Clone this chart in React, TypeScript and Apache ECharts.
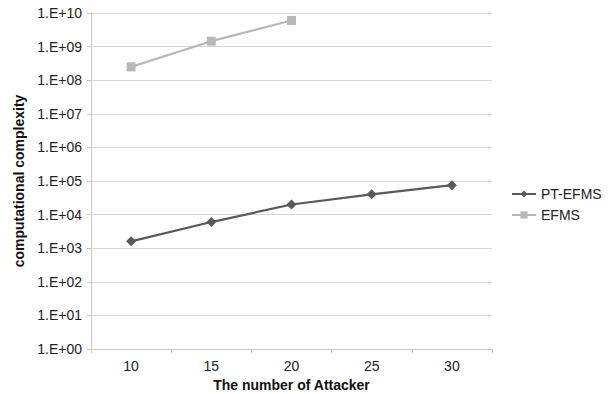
import React, { useEffect, useRef } from "react";
import * as echarts from "echarts";

const categories = ["10", "15", "20", "25", "30"];
const ptEfms = [1600, 6000, 20000, 40000, 75000];
const efms = [250000000, 1450000000, 6000000000];
const seriesNames = ["PT-EFMS", "EFMS"];

function fmt(v: number) {
  const e = Math.round(Math.log10(v));
  return "1.E+" + (e < 10 ? "0" + e : "" + e);
}

export default function App() {
  const ref = useRef<HTMLDivElement>(null);
  useEffect(() => {
    if (!ref.current) return;
    const chart = echarts.init(ref.current, undefined, { renderer: "svg" });
    const font = "Liberation Sans, Arial, sans-serif";
    chart.setOption({
      animation: false,
      backgroundColor: "#ffffff",
      textStyle: { fontFamily: font },
      grid: { left: 91, right: 118, top: 13, bottom: 45, containLabel: false, outerBoundsMode: "none" },
      legend: {
        orient: "vertical",
        left: 506,
        top: 182,
        itemWidth: 24,
        itemHeight: 9,
        itemGap: 7,
        textStyle: { fontSize: 14, color: "#222", fontFamily: font },
        data: seriesNames,
      },
      xAxis: {
        type: "category",
        data: categories,
        boundaryGap: true,
        name: "The number of Attacker",
        nameLocation: "middle",
        nameGap: 27,
        nameTextStyle: { fontSize: 14, fontWeight: "bold", color: "#111", fontFamily: font },
        axisLine: { lineStyle: { color: "#c8c8c8", width: 1 } },
        axisTick: { show: true, length: 4, lineStyle: { color: "#c8c8c8" } },
        axisLabel: { fontSize: 14, color: "#222", margin: 10, fontFamily: font },
        splitLine: { show: false },
      },
      yAxis: {
        type: "log",
        logBase: 10,
        min: 1,
        max: 1e10,
        interval: 1,
        name: "computational complexity",
        nameLocation: "middle",
        nameGap: 64,
        nameTextStyle: { fontSize: 14, fontWeight: "bold", color: "#111", fontFamily: font },
        axisLine: { show: true, lineStyle: { color: "#c8c8c8", width: 1 } },
        axisTick: { show: true, length: 4, lineStyle: { color: "#c8c8c8" } },
        axisLabel: { fontSize: 14, color: "#222", margin: 9, formatter: (v: number) => fmt(v), fontFamily: font },
        splitLine: { show: true, lineStyle: { color: "#d6d6d6", width: 1 } },
        minorTick: { show: false },
      },
      series: [
        {
          name: seriesNames[0],
          type: "line",
          data: ptEfms,
          symbol: "diamond",
          symbolSize: 10,
          lineStyle: { color: "#595959", width: 2.2 },
          itemStyle: { color: "#595959" },
        },
        {
          name: seriesNames[1],
          type: "line",
          data: efms,
          symbol: "rect",
          symbolSize: 9,
          lineStyle: { color: "#b8b8b8", width: 2.2 },
          itemStyle: { color: "#b8b8b8" },
        },
      ],
    });
    return () => chart.dispose();
  }, []);
  return <div ref={ref} style={{ width: 610, height: 394, position: "absolute", left: 0, top: 0 }} />;
}
